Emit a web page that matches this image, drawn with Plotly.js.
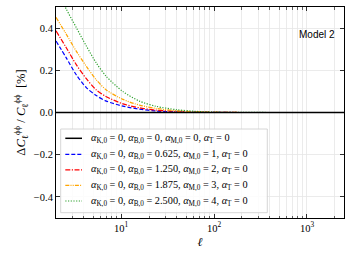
<!DOCTYPE html>
<html><head><meta charset="utf-8">
<script src="https://cdn.plot.ly/plotly-3.0.1.min.js"></script>
<style>html,body{margin:0;padding:0;background:#fff}#c{width:354px;height:253px}</style>
</head><body><div id="c"></div>
<script>
// multipole values
const ell = [2, 2.58, 3.3, 4.24, 5.42, 6.95, 10.5, 15.8, 24, 40, 60, 100, 200, 500, 1000, 2500];
// Delta C / C [%]
const model0 = [0,0,0,0,0,0,0,0,0,0,0,0,0,0,0,0];
const model1 = [0.339, 0.259, 0.179, 0.118, 0.080, 0.054, 0.030, 0.016, 0.007, 0.003, 0.0015, 0.0005, 0, 0, 0, 0];
const model2 = [0.387, 0.307, 0.227, 0.160, 0.107, 0.075, 0.041, 0.022, 0.011, 0.005, 0.002, 0.001, 0, 0, 0, 0];
const model3 = [0.451, 0.371, 0.291, 0.219, 0.155, 0.107, 0.062, 0.035, 0.019, 0.008, 0.004, 0.0015, 0, 0, 0, 0];
const model4 = [0.59, 0.49, 0.403, 0.315, 0.235, 0.171, 0.099, 0.054, 0.029, 0.013, 0.006, 0.002, 0.0005, 0, 0, 0];
const labels = [
  "<i>α</i><sub>K,0</sub> = 0, <i>α</i><sub>B,0</sub> = 0, <i>α</i><sub>M,0</sub> = 0, <i>α</i><sub>T</sub> = 0",
  "<i>α</i><sub>K,0</sub> = 0, <i>α</i><sub>B,0</sub> = 0.625, <i>α</i><sub>M,0</sub> = 1, <i>α</i><sub>T</sub> = 0",
  "<i>α</i><sub>K,0</sub> = 0, <i>α</i><sub>B,0</sub> = 1.250, <i>α</i><sub>M,0</sub> = 2, <i>α</i><sub>T</sub> = 0",
  "<i>α</i><sub>K,0</sub> = 0, <i>α</i><sub>B,0</sub> = 1.875, <i>α</i><sub>M,0</sub> = 3, <i>α</i><sub>T</sub> = 0",
  "<i>α</i><sub>K,0</sub> = 0, <i>α</i><sub>B,0</sub> = 2.500, <i>α</i><sub>M,0</sub> = 4, <i>α</i><sub>T</sub> = 0"
];
const xMajorTicks = [10, 100, 1000];
const xMajorText = ["10<sup>1</sup>", "10<sup>2</sup>", "10<sup>3</sup>"];
const xMinorTicks = [3,4,5,6,7,8,9,20,30,40,50,60,70,80,90,200,300,400,500,600,700,800,900,2000];
const yTicks = [-0.4, -0.2, 0, 0.2, 0.4];
const annotationText = "Model 2";

const series = [model0, model1, model2, model3, model4];
const styles = [
  {color:'#000000', dash:'solid', width:1.5},
  {color:'#0000ff', dash:'4px,2px', width:1.2},
  {color:'#ff0000', dash:'5px,1.5px,1.2px,1.5px', width:1.2},
  {color:'#ffa500', dash:'4px,1.2px,1px,1.2px,1px,1.2px', width:1.2},
  {color:'#2ca02c', dash:'1.2px,1.5px', width:1.2}
];
const order = [1,2,3,4,0];
const traces = order.map(i => ({
  x: ell, y: series[i], type:'scatter', mode:'lines', name: labels[i],
  line: {color: styles[i].color, dash: styles[i].dash, width: styles[i].width, shape:'spline', smoothing:0.8},
  showlegend:false, hoverinfo:'skip'
}));

const W = 354, H = 253, L = 56, R = 10, T = 7, B = 35;
const pw = W - L - R, ph = H - T - B;
const px = v => (v - L) / pw;
const py = v => (H - B - v) / ph;

const shapes = [{type:'rect', xref:'paper', yref:'paper', x0:px(60.7), x1:px(267.3), y0:py(212.7), y1:py(129),
  line:{color:'#cccccc', width:0.8}, fillcolor:'rgba(255,255,255,0.85)', layer:'above'}];
const annotations = [];
const rowY = [138.3, 154.3, 169.8, 185.4, 201];
labels.forEach((lab, i) => {
  shapes.push({type:'line', xref:'paper', yref:'paper', x0:px(65.3), x1:px(82), y0:py(rowY[i]), y1:py(rowY[i]),
    line:{color:styles[i].color, dash:styles[i].dash, width:styles[i].width}, layer:'above'});
  annotations.push({xref:'paper', yref:'paper', x:px(88.5), y:py(rowY[i]), xanchor:'left', yanchor:'middle',
    text:lab, showarrow:false, font:{family:'Liberation Serif', size:10.3, color:'#000'}});
});
annotations.push({xref:'paper', yref:'paper', x:px(337), y:py(34.7), xanchor:'right', yanchor:'middle',
  text:annotationText, showarrow:false, font:{family:'Liberation Sans, Arial', size:10, color:'#000'}});

const layout = {
  width:W, height:H, margin:{l:L, r:R, t:T, b:B, pad:0},
  paper_bgcolor:'#fff', plot_bgcolor:'#fff',
  font:{family:'Liberation Serif', size:10, color:'#000'},
  xaxis:{type:'log', range:[Math.log10(2), Math.log10(2500)], tickmode:'array', tickvals:xMajorTicks, ticktext:xMajorText,
    ticks:'inside', ticklen:4, tickwidth:0.8, tickcolor:'#000', showline:true, linecolor:'#000', linewidth:1, mirror:'ticks',
    showgrid:true, gridcolor:'#e6e6e6', gridwidth:0.8, zeroline:false,
    tickfont:{family:'Liberation Serif', size:10.5},
    minor:{tickmode:'array', tickvals:xMinorTicks, ticks:'inside', ticklen:2.5, tickwidth:0.6, tickcolor:'#000', showgrid:true, gridcolor:'#e6e6e6', gridwidth:0.8},
    title:{text:'<i>ℓ</i>', font:{family:'Liberation Serif', size:12}, standoff:5}},
  yaxis:{range:[-0.5, 0.5], tickmode:'array', tickvals:yTicks, tickformat:'.1f',
    ticks:'inside', ticklen:4, tickwidth:0.8, tickcolor:'#000', showline:true, linecolor:'#000', linewidth:1, mirror:'ticks',
    showgrid:true, gridcolor:'#e6e6e6', gridwidth:0.8, zeroline:false,
    tickfont:{family:'Liberation Serif', size:10.5},
    title:{text:'Δ<i>C</i><sub>ℓ</sub><sup>ϕϕ</sup> / <i>C</i><sub>ℓ</sub><sup>ϕϕ</sup>  [%]', font:{family:'Liberation Serif', size:12.5}, standoff:5}},
  shapes:shapes, annotations:annotations, showlegend:false
};
Plotly.newPlot('c', traces, layout, {staticPlot:true, displayModeBar:false});
</script></body></html>
